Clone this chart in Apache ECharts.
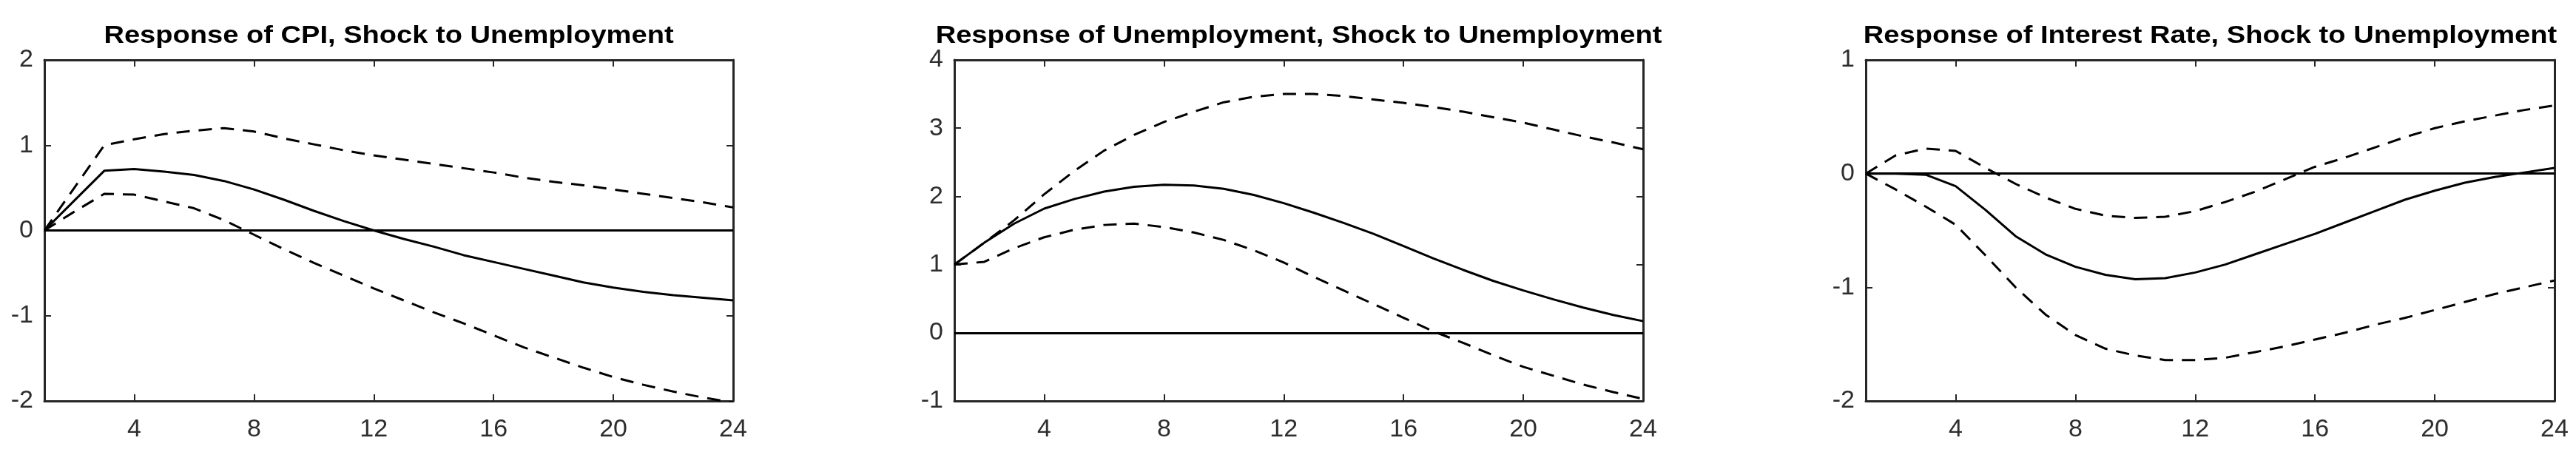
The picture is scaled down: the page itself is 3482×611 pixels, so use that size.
<!DOCTYPE html>
<html>
<head>
<meta charset="utf-8">
<title>Impulse responses to an unemployment shock</title>
<script src="https://cdn.jsdelivr.net/npm/echarts@6.0.0/dist/echarts.min.js"></script>
<style>
html, body { margin: 0; padding: 0; background: #fff; }
#irf { width: 3482px; height: 611px; }
</style>
</head>
<body>
<div id="irf"></div>
<script>
// horizon, one point per period
var periods = [1, 2, 3, 4, 5, 6, 7, 8, 9, 10, 11, 12, 13, 14, 15, 16, 17, 18, 19, 20, 21, 22, 23, 24];
var xTicks = [4, 8, 12, 16, 20, 24];

var titles = [
    'Response of CPI, Shock to Unemployment',
    'Response of Unemployment, Shock to Unemployment',
    'Response of Interest Rate, Shock to Unemployment'
];

// y tick labels of each panel
var cpiTicks = [-2, -1, 0, 1, 2];
var unempTicks = [-1, 0, 1, 2, 3, 4];
var rateTicks = [-2, -1, 0, 1];

// CPI
var cpiResp = [0, 0.35, 0.70, 0.72, 0.69, 0.65, 0.58, 0.48, 0.36, 0.23, 0.11, 0.0,
    -0.10, -0.19, -0.29, -0.37, -0.45, -0.53, -0.61, -0.67, -0.72, -0.76, -0.79, -0.82];
var cpiUpper = [0, 0.5, 1.0, 1.07, 1.13, 1.17, 1.2, 1.16, 1.08, 1.01, 0.94, 0.88,
    0.83, 0.78, 0.73, 0.68, 0.62, 0.57, 0.53, 0.48, 0.43, 0.38, 0.33, 0.27];
var cpiLower = [0, 0.22, 0.43, 0.42, 0.34, 0.26, 0.12, -0.05, -0.22, -0.38, -0.53, -0.68,
    -0.82, -0.96, -1.09, -1.23, -1.37, -1.49, -1.61, -1.72, -1.81, -1.89, -1.96, -2.02];

// Unemployment
var unempResp = [1.0, 1.32, 1.60, 1.82, 1.96, 2.07, 2.14, 2.17, 2.16, 2.11, 2.02, 1.90,
    1.76, 1.61, 1.45, 1.27, 1.09, 0.92, 0.76, 0.62, 0.49, 0.37, 0.26, 0.17];
var unempUpper = [1.0, 1.32, 1.65, 2.03, 2.37, 2.67, 2.90, 3.09, 3.24, 3.38, 3.46, 3.50,
    3.50, 3.47, 3.42, 3.37, 3.31, 3.24, 3.16, 3.08, 2.98, 2.88, 2.79, 2.69];
var unempLower = [1.0, 1.04, 1.24, 1.40, 1.51, 1.58, 1.60, 1.55, 1.47, 1.36, 1.21, 1.03,
    0.82, 0.62, 0.42, 0.22, 0.02, -0.15, -0.33, -0.50, -0.63, -0.76, -0.87, -0.97];

// Interest rate
var rateResp = [0, 0.0, -0.01, -0.11, -0.32, -0.55, -0.71, -0.82, -0.89, -0.93, -0.92, -0.87,
    -0.80, -0.71, -0.62, -0.53, -0.43, -0.33, -0.23, -0.15, -0.08, -0.03, 0.01, 0.05];
var rateUpper = [0, 0.16, 0.22, 0.20, 0.05, -0.09, -0.21, -0.31, -0.37, -0.39, -0.38, -0.33,
    -0.25, -0.16, -0.05, 0.06, 0.14, 0.23, 0.32, 0.40, 0.46, 0.51, 0.56, 0.60];
var rateLower = [0, -0.14, -0.29, -0.45, -0.72, -1.00, -1.24, -1.42, -1.54, -1.60, -1.64, -1.64,
    -1.62, -1.57, -1.52, -1.46, -1.40, -1.33, -1.27, -1.20, -1.13, -1.06, -1.00, -0.94];

var panels = [
    { ticks: cpiTicks, resp: cpiResp, upper: cpiUpper, lower: cpiLower },
    { ticks: unempTicks, resp: unempResp, upper: unempUpper, lower: unempLower },
    { ticks: rateTicks, resp: rateResp, upper: rateUpper, lower: rateLower }
];

var boxLeft = [60, 1290, 2522];
var boxWidth = 931;
var boxTop = 81;
var boxHeight = 461;
var axisColor = '#262626';

function pairs(ys) {
    return periods.map(function (p, i) { return [p, ys[i]]; });
}

function xAxisFor(g, pos) {
    var bottom = pos === 'bottom';
    return {
        type: 'value',
        gridIndex: g,
        position: pos,
        min: periods[0],
        max: periods[periods.length - 1],
        axisLine: { show: true, onZero: false, lineStyle: { color: axisColor, width: 3 } },
        axisTick: { show: true, inside: true, length: 9, customValues: xTicks,
            lineStyle: { color: axisColor, width: 2 } },
        axisLabel: { show: bottom, customValues: xTicks, margin: 22, color: '#2e2e2e',
            fontSize: 34, fontFamily: '"Liberation Sans", Arial, sans-serif' },
        splitLine: { show: false }
    };
}

function yAxisFor(g, pos) {
    var ticks = panels[g].ticks;
    return {
        type: 'value',
        gridIndex: g,
        position: pos,
        min: ticks[0],
        max: ticks[ticks.length - 1],
        interval: 1,
        axisLine: { show: true, onZero: false, lineStyle: { color: axisColor, width: 3 } },
        axisTick: { show: true, inside: true, length: 9, lineStyle: { color: axisColor, width: 2 } },
        axisLabel: { show: pos === 'left', margin: 15, color: '#2e2e2e',
            fontSize: 34, fontFamily: '"Liberation Sans", Arial, sans-serif' },
        splitLine: { show: false }
    };
}

function lineSeries(g, ys, dashed) {
    var s = {
        type: 'line',
        xAxisIndex: 2 * g,
        yAxisIndex: 2 * g,
        data: pairs(ys),
        symbol: 'none',
        silent: true,
        lineStyle: { color: '#000', width: 3, type: dashed ? [18, 12] : 'solid' }
    };
    if (!dashed) {
        // horizontal zero reference line
        s.markLine = {
            silent: true,
            symbol: ['none', 'none'],
            label: { show: false },
            lineStyle: { color: '#000', width: 3, type: 'solid' },
            data: [{ yAxis: 0 }]
        };
    }
    return s;
}

var grids = [], xAxes = [], yAxes = [], series = [], graphics = [];
panels.forEach(function (p, g) {
    grids.push({ left: boxLeft[g], top: boxTop, width: boxWidth, height: boxHeight, outerBoundsMode: 'none' });
    xAxes.push(xAxisFor(g, 'bottom'));
    xAxes.push(xAxisFor(g, 'top'));
    yAxes.push(yAxisFor(g, 'left'));
    yAxes.push(yAxisFor(g, 'right'));
    series.push(lineSeries(g, p.upper, true));
    series.push(lineSeries(g, p.lower, true));
    series.push(lineSeries(g, p.resp, false));
    graphics.push({
        type: 'text',
        x: boxLeft[g] + boxWidth / 2,
        y: 49,
        scaleX: 1.12,
        style: {
            text: titles[g],
            fill: '#000',
            font: 'bold 34px "Liberation Sans", Arial, sans-serif',
            textAlign: 'center',
            textVerticalAlign: 'middle',
            align: 'center',
            verticalAlign: 'middle'
        }
    });
});

var chart = echarts.init(document.getElementById('irf'));
chart.setOption({
    animation: false,
    backgroundColor: '#fff',
    grid: grids,
    xAxis: xAxes,
    yAxis: yAxes,
    series: series,
    graphic: graphics
});
</script>
</body>
</html>
